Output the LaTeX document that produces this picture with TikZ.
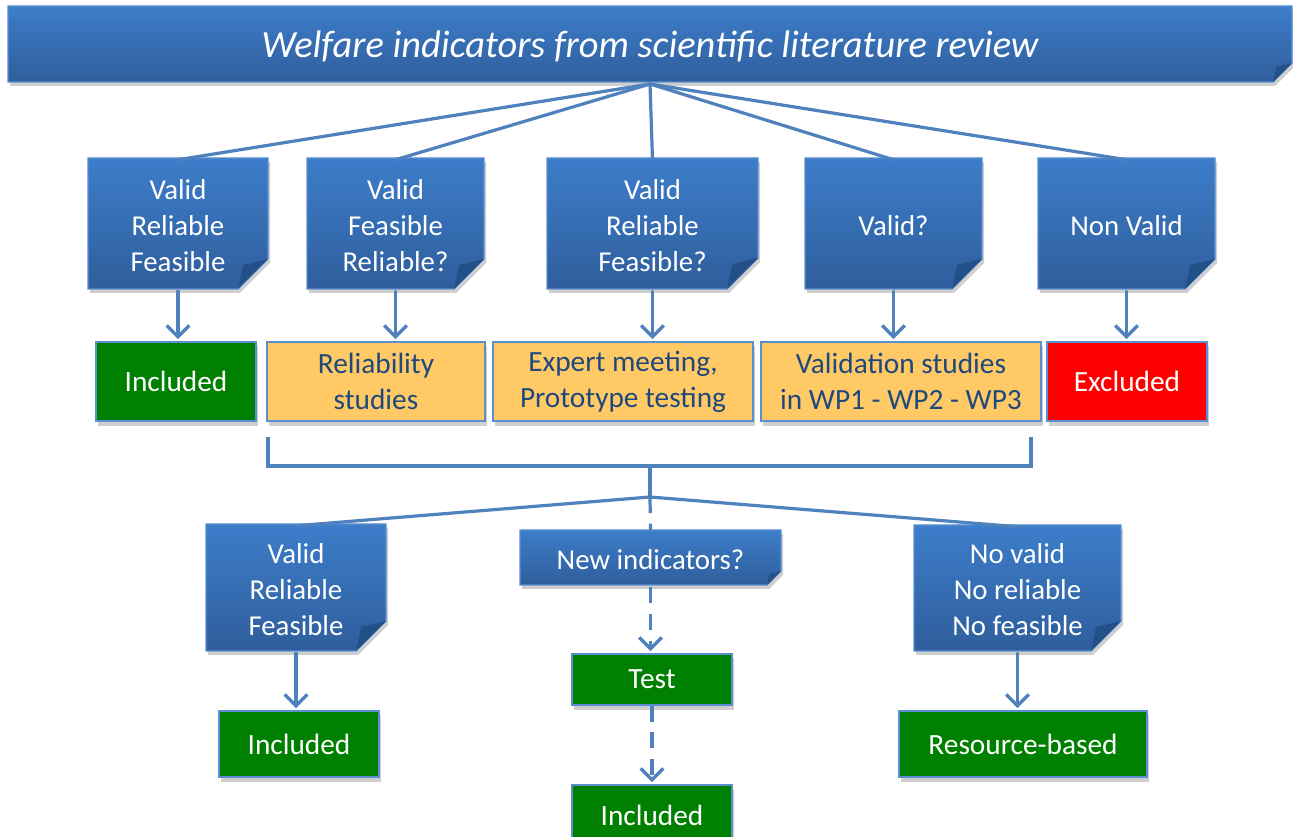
\documentclass[tikz,border=0pt]{standalone}
\usepackage{fontspec}
\setmainfont{Carlito}
\usetikzlibrary{arrows.meta}
\definecolor{nbtop}{HTML}{3D7DCA}
\definecolor{nbbot}{HTML}{2F5E9C}
\definecolor{nbord}{HTML}{5B8FD0}
\definecolor{fold}{HTML}{24508A}
\definecolor{conn}{HTML}{4F81BD}
\definecolor{gfill}{HTML}{008000}
\definecolor{ofill}{HTML}{FFC966}
\definecolor{otext}{HTML}{1F497D}
\definecolor{rfill}{HTML}{FF0000}
\definecolor{shad}{HTML}{CFCFCF}
\tikzset{
  notetext/.style={text=white, align=center, font=\fontsize{21.6}{27}\selectfont, inner sep=0pt},
  conline/.style={draw=conn, line width=2.4pt, line cap=round},
  arr/.style={conline, -{Straight Barb[length=8.5pt,width=17pt,line width=2.6pt]}},
  dashline/.style={conline, line cap=butt, dash pattern=on 12pt off 8pt},
  boxbase/.style={draw=nbord, line width=1.2pt, align=center, inner sep=0pt, font=\fontsize{22}{27}\selectfont},
  gbox/.style={boxbase, fill=gfill, text=white},
  obox/.style={boxbase, fill=ofill, text=otext},
  rbox/.style={boxbase, fill=rfill, text=white},
}
% note: name, x0, y0, x1, y1, fold, text
\newcommand\mynote[7]{%
  \fill[shad] (#2+2,#3+4) -- (#4+2,#3+4) -- (#4+2,#5-#6+4) -- (#4-#6+2,#5+4) -- (#2+2,#5+4) -- cycle;
  \shade[top color=nbtop, bottom color=nbbot] (#2,#3) -- (#4,#3) -- (#4,#5-#6) -- (#4-#6,#5) -- (#2,#5) -- cycle;
  \draw[nbord, line width=0.8pt] (#2,#3) -- (#4,#3) -- (#4,#5-#6) -- (#4-#6,#5) -- (#2,#5) -- cycle;
  \fill[fold] (#4,#5-#6) -- (#4-#6,#5) -- (#4-0.83*#6,#5-0.8*#6) -- cycle;
  \node[notetext, minimum width={(#4-#2)*0.75pt}, minimum height={(#5-#3)*0.75pt}] (#1) at ({(#2+#4)/2},{(#3+#5)/2+2}) {#7};
}
% box: name, x0, y0, x1, y1, style, text
\newcommand\mybox[7]{%
  \fill[shad] (#2+2,#3+4) rectangle (#4+2,#5+5);
  \node[#6, minimum width={(#4-#2)*0.75pt}, minimum height={(#5-#3)*0.75pt}] (#1) at ({(#2+#4)/2},{(#3+#5)/2}) {#7};
}
\begin{document}
\begin{tikzpicture}[x=0.75pt, y=-0.75pt]
\useasboundingbox (0,0) rectangle (1293,837);

% title banner
\mynote{title}{8}{6}{1292}{82}{19}{}
\node[notetext, font=\fontsize{28.8}{32}\selectfont\itshape] (titletext) at (650,46) {Welfare indicators from scientific literature review};

\coordinate (hub) at (650,84);
\mynote{n1}{88}{158}{268}{289}{30}{Valid\\Reliable\\Feasible}
\mynote{n2}{307}{158}{484}{289}{30}{Valid\\Feasible\\Reliable?}
\mynote{n3}{547}{158}{758}{289}{31}{Valid\\Reliable\\Feasible?}
\mynote{n4}{805}{158}{982}{289}{30}{Valid?}
\mynote{n5}{1038}{158}{1215}{289}{30}{Non Valid}
\foreach \n in {n1,n2,n3,n4,n5} \draw[conline] (hub) -- (\n.north);

% second row boxes
\mybox{b1}{96}{342}{256}{421}{gbox}{Included}
\mybox{b2}{267}{342}{485}{421}{obox}{Reliability\\studies}
\mybox{b3}{493}{342}{753}{421}{obox}{Expert meeting,\\Prototype testing}
\mybox{b4}{761}{342}{1041}{421}{obox}{Validation studies\\in WP1 - WP2 - WP3}
\mybox{b5}{1047}{342}{1207}{421}{rbox}{Excluded}
\foreach \i in {1,...,5} \draw[arr] (n\i.south) -- ([yshift=1.5pt]n\i.south |- b\i.north);

% bracket
\coordinate (brl) at (268,437);
\coordinate (brr) at (1031,437);
\coordinate (brm) at (650,466);
\coordinate (hub2) at (650,497);
\draw[conline, line cap=butt, line join=miter] (brl) -- (268,466) -- (1031,466) -- (brr);
\draw[conline, line cap=butt] (brm) -- (hub2);

% bottom notes
\mynote{m1}{206}{524}{386}{651}{30}{Valid\\Reliable\\Feasible}
\mynote{m2}{520}{530}{781}{585}{14}{New indicators?}
\mynote{m3}{914}{525}{1121}{651}{30}{No valid\\No reliable\\No feasible}
\draw[conline] (hub2) -- (m1.north);
\draw[conline] (hub2) -- (m3.north);
\draw[dashline] (hub2) -- (m2.north);

% bottom boxes
\mybox{c1}{219}{711}{379}{777}{gbox}{Included}
\mybox{c2}{572}{654}{732}{705}{gbox}{Test}
\mybox{c3}{899}{711}{1147}{777}{gbox}{Resource-based}
\mybox{c4}{572}{785}{732}{845}{gbox}{Included}
\draw[arr] (m1.south) -- ([yshift=1.5pt]m1.south |- c1.north);
\draw[arr] (m3.south) -- ([yshift=1.5pt]m3.south |- c3.north);
\draw[arr, dash pattern=on 12pt off 8pt, line cap=butt] (m2.south) -- ([yshift=1.5pt]m2.south |- c2.north);
\draw[arr, dash pattern=on 12pt off 8pt, line cap=butt] (c2.south) -- ([yshift=1.5pt]c4.north);
\end{tikzpicture}
\end{document}
